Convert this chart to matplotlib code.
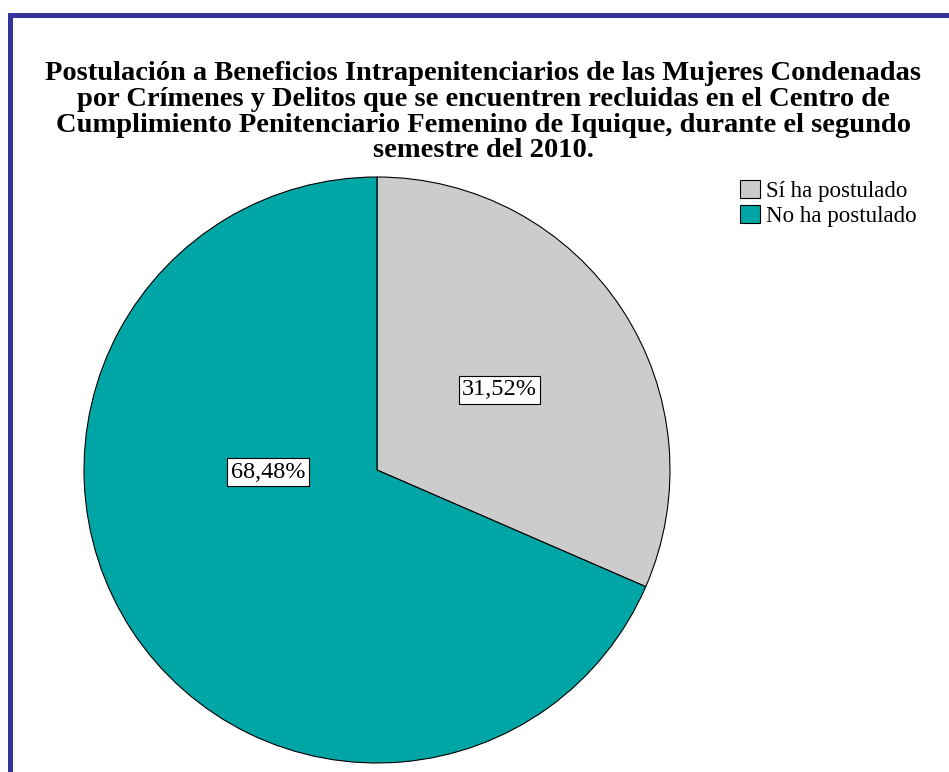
import matplotlib.pyplot as plt
from matplotlib.patches import Rectangle

labels = ["Sí ha postulado", "No ha postulado"]
values = [31.52, 68.48]
colors = ["#cccccc", "#00a5a5"]
title = ("Postulación a Beneficios Intrapenitenciarios de las Mujeres Condenadas\n"
         "por Crímenes y Delitos que se encuentren recluidas en el Centro de\n"
         "Cumplimiento Penitenciario Femenino de Iquique, durante el segundo\n"
         "semestre del 2010.")

plt.rcParams["font.family"] = ["Liberation Serif", "DejaVu Serif"]

W, H = 949, 772
fig = plt.figure(figsize=(W / 100, H / 100), dpi=100)

# blue frame on top and left
fig.add_artist(Rectangle((8 / W, 0), 5 / W, 1 - 13 / H, transform=fig.transFigure,
                         color="#333399", lw=0))
fig.add_artist(Rectangle((8 / W, 1 - 18 / H), 1, 5 / H, transform=fig.transFigure,
                         color="#333399", lw=0))

fig.text(483 / W, 1 - 61 / H, title, ha="center", va="top", fontsize=20.5,
         fontweight="bold", linespacing=1.04)

# pie axes
cx, cy, r = 377, 470, 293
ax = fig.add_axes([(cx - r) / W, (H - cy - r) / H, 2 * r / W, 2 * r / H])
wedges, texts, autotexts = ax.pie(
    values, colors=colors, startangle=90, counterclock=False,
    autopct=lambda p: f"{p:.2f}%".replace(".", ","), pctdistance=0.5,
    wedgeprops=dict(edgecolor="black", linewidth=0.8),
)
ax.set_xlim(-1, 1)
ax.set_ylim(-1, 1)
ax.set_aspect("auto")
ax.axis("off")
autotexts[1].set_position((-0.372, -0.007))
for t in autotexts:
    t.set_fontsize(17.5)
    t.set_bbox(dict(facecolor="white", edgecolor="black", linewidth=0.8, pad=2.5))

leg = fig.legend(wedges, labels, loc="upper left", bbox_to_anchor=(740 / W, 1 - 180 / H),
                 frameon=False, fontsize=16.5, handlelength=0.87, handleheight=0.85,
                 handletextpad=0.26, labelspacing=0.13, borderpad=0, borderaxespad=0)

fig.savefig("out.png", dpi=100)
